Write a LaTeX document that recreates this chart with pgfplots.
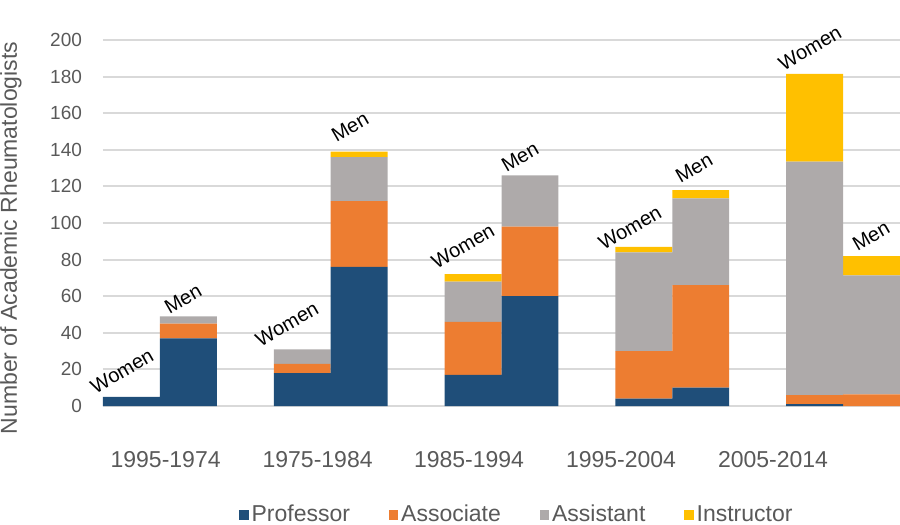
\documentclass[border=0pt]{standalone}
\usepackage{pgfplots}
\pgfplotsset{compat=1.18}
\usepackage{pgfplotstable}
\usepackage{fontspec}
\setmainfont{Liberation Sans}
\definecolor{cProf}{HTML}{1F4E79}
\definecolor{cAssoc}{HTML}{ED7D31}
\definecolor{cAsst}{HTML}{AEAAAA}
\definecolor{cInstr}{HTML}{FFC000}
\definecolor{cGrid}{HTML}{D9D9D9}
\definecolor{cText}{HTML}{595959}
\tikzset{lbl/.style={rotate=30, anchor=center, font=\fontsize{10}{12}\selectfont, text=black, inner sep=0pt}}
\pgfplotstableread{
x     prof  assoc asst  instr
0.5   5     0     0     0
1.5   37    8     4     0
3.5   18    5     8     0
4.5   76    36    24    3
6.5   17    29    22    4
7.5   60    38    28    0
9.5   4     26    54    3
10.5  10    56    47.5  4.5
12.5  1     5     127.5 48
13.5  0     6.4   65    10.5
}\datatable
\begin{document}
\begin{tikzpicture}
\useasboundingbox (-51.5pt,-59.5pt) rectangle (398.5pt,203pt);
\begin{axis}[
  at={(0pt,0pt)}, anchor=south west,
  scale only axis,
  width=398.5pt, height=183pt,
  xmin=0, xmax=14,
  ymin=0, ymax=200,
  ybar stacked,
  bar width=1,
  clip=false,
  axis line style={draw=none},
  major tick length=0pt,
  ytick={0,20,...,200},
  ymajorgrids,
  major grid style={cGrid, line width=1pt},
  xtick={1.1,3.77,6.43,9.1,11.77},
  xticklabels={1995-1974,1975-1984,1985-1994,1995-2004,2005-2014},
  xticklabel style={anchor=center, yshift=-27pt, font=\fontsize{11.5}{13}\selectfont, text=cText},
  yticklabel style={anchor=east, xshift=-7pt, font=\fontsize{9.5}{11}\selectfont, text=cText},
  /pgf/number format/assume math mode=true,
  ylabel={Number of Academic Rheumatologists},
  ylabel style={at={(axis description cs:-0.1154,0.459)}, anchor=center, font=\fontsize{11.5}{13}\selectfont, text=cText},
  legend columns=4,
  legend style={at={(axis description cs:0.52,-0.298)}, anchor=center, draw=none, fill=none,
    font=\fontsize{11.5}{13}\selectfont, text=cText,
    /tikz/every even column/.append style={column sep=18pt},
    nodes={inner sep=1.5pt}},
  legend image code/.code={\fill[#1] (0pt,-2.3pt) rectangle (4.6pt,2.3pt);},
]
\addplot[fill=cProf, draw=none] table[x=x, y=prof] {\datatable};
\addplot[fill=cAssoc, draw=none] table[x=x, y=assoc] {\datatable};
\addplot[fill=cAsst, draw=none] table[x=x, y=asst] {\datatable};
\addplot[fill=cInstr, draw=none] table[x=x, y=instr] {\datatable};
\legend{Professor,Associate,Assistant,Instructor}
\node[lbl] at (axis cs:0.334,19.1) {Women};
\node[lbl] at (axis cs:1.405,58.5) {Men};
\node[lbl] at (axis cs:3.232,44.8) {Women};
\node[lbl] at (axis cs:4.339,152.5) {Men};
\node[lbl] at (axis cs:6.323,87.4) {Women};
\node[lbl] at (axis cs:7.325,136.1) {Men};
\node[lbl] at (axis cs:9.257,97.3) {Women};
\node[lbl] at (axis cs:10.381,130.1) {Men};
\node[lbl] at (axis cs:12.419,195.6) {Women};
\node[lbl] at (axis cs:13.490,92.9) {Men};
\end{axis}
\end{tikzpicture}
\end{document}
